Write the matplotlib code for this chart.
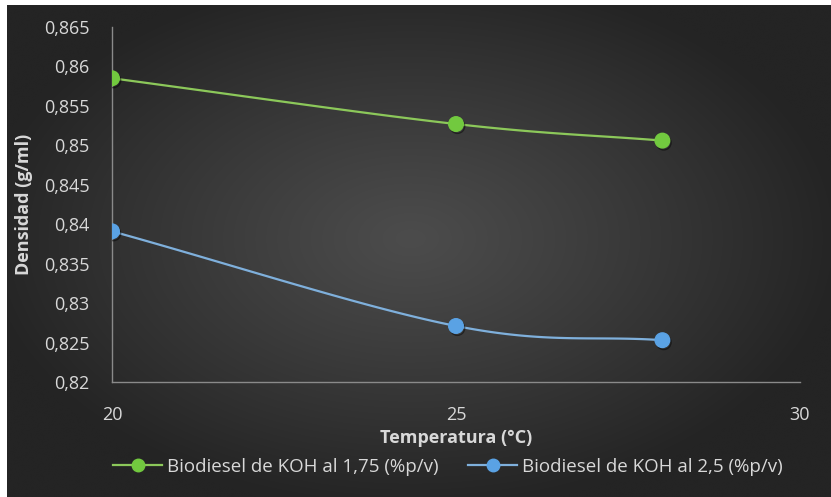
import numpy as np
import matplotlib
matplotlib.use("Agg")
import matplotlib.pyplot as plt
import matplotlib.patheffects as pe
from matplotlib.ticker import FuncFormatter, MultipleLocator

plt.rcParams['font.family'] = ['Open Sans', 'DejaVu Sans']

temperature = [20, 25, 28]
dens_175 = [0.8585, 0.8527, 0.8506]
dens_25 = [0.8391, 0.8271, 0.8253]
series_labels = ["Biodiesel de KOH al 1,75 (%p/v)", "Biodiesel de KOH al 2,5 (%p/v)"]
series_colors = ["#72c93f", "#5aa2e4"]
line_colors = ["#8cc85a", "#7fb0dc"]
x_label = "Temperatura (°C)"
y_label = "Densidad (g/ml)"


def smooth(xs, ys, n=60):
    """Catmull-Rom curve through the given points."""
    xs = np.asarray(xs, float)
    ys = np.asarray(ys, float)
    px = np.concatenate([[2 * xs[0] - xs[1]], xs, [2 * xs[-1] - xs[-2]]])
    py = np.concatenate([[2 * ys[0] - ys[1]], ys, [2 * ys[-1] - ys[-2]]])
    ox, oy = [], []
    t = np.linspace(0, 1, n)
    for i in range(1, len(px) - 2):
        for p, out in ((px, ox), (py, oy)):
            p0, p1, p2, p3 = p[i - 1], p[i], p[i + 1], p[i + 2]
            m1 = (p2 - p0) / 6
            m2 = (p3 - p1) / 6
            c1 = p1 + m1
            c2 = p2 - m2
            seg = ((1 - t) ** 3 * p1 + 3 * (1 - t) ** 2 * t * c1
                   + 3 * (1 - t) * t ** 2 * c2 + t ** 3 * p2)
            out.extend(seg if i == 1 else seg[1:])
    return np.array(ox), np.array(oy)


W, H = 831, 497
fig = plt.figure(figsize=(W / 100, H / 100), dpi=100)
fig.patch.set_facecolor("white")

# dark radial backdrop
bg = fig.add_axes([7 / W, 0, 1 - 7 / W, 1 - 5 / H])
bg.set_axis_off()
gx, gy = np.meshgrid(np.linspace(-1, 1, 400), np.linspace(-1, 1, 240))
r = np.sqrt(((gx + 0.02) / 1.05) ** 2 + ((gy + 0.05) / 1.1) ** 2)
r = np.clip(r, 0, 1)
lev = 0x4c - (0x4c - 0x24) * r ** 1.1
img = np.dstack([lev, lev, lev]) / 255.0
bg.imshow(img, aspect="auto", extent=[0, 1, 0, 1], interpolation="bicubic")
bg.set_xlim(0, 1)
bg.set_ylim(0, 1)

ax = fig.add_axes([112 / W, 1 - 382 / H, (800 - 112) / W, (382 - 27) / H])
ax.patch.set_alpha(0)
ax.set_xlim(20, 30)
ax.set_ylim(0.82, 0.865)
ax.xaxis.set_major_locator(MultipleLocator(5))
ax.yaxis.set_major_locator(MultipleLocator(0.005))
ax.yaxis.set_major_formatter(FuncFormatter(lambda v, p: f"{v:.3f}".rstrip("0").rstrip(".").replace(".", ",")))
ax.xaxis.set_major_formatter(FuncFormatter(lambda v, p: f"{v:g}"))
for s in ("top", "right"):
    ax.spines[s].set_visible(False)
for s in ("left", "bottom"):
    ax.spines[s].set_color("#8a8a8a")
    ax.spines[s].set_linewidth(1.0)
ax.tick_params(length=0, colors="#d8d8d8", labelsize=13)
ax.tick_params(axis="y", pad=16)
ax.tick_params(axis="x", pad=17)

shadow = [pe.SimpleLineShadow(offset=(1, -1.5), shadow_color="black", alpha=0.45), pe.Normal()]
handles = []
for ys, c, lc, lab in zip([dens_175, dens_25], series_colors, line_colors, series_labels):
    sx, sy = smooth(temperature, ys)
    ax.plot(sx, sy, color=lc, lw=1.6, zorder=3, solid_capstyle="round")
    ax.plot(temperature, ys, ls="none", marker="o", ms=10.5, color=c, mec=c,
            zorder=4, path_effects=shadow)
    handles.append(plt.Line2D([], [], color=lc, lw=1.6, marker="o", ms=9,
                              mfc=c, mec=c, label=lab))

ax.set_xlabel(x_label, color="#d8d8d8", fontsize=13, fontweight="bold", labelpad=4)
ax.set_ylabel(y_label, color="#d8d8d8", fontsize=13, fontweight="bold", labelpad=8)

leg = fig.legend(handles=handles, loc="center", bbox_to_anchor=(448 / W, 1 - 467 / H),
                 ncol=2, frameon=False, fontsize=13.5, handlelength=2.6,
                 handletextpad=0.25, columnspacing=1.6, labelcolor="#d8d8d8")

fig.savefig("out.png", dpi=100, facecolor=fig.get_facecolor())
